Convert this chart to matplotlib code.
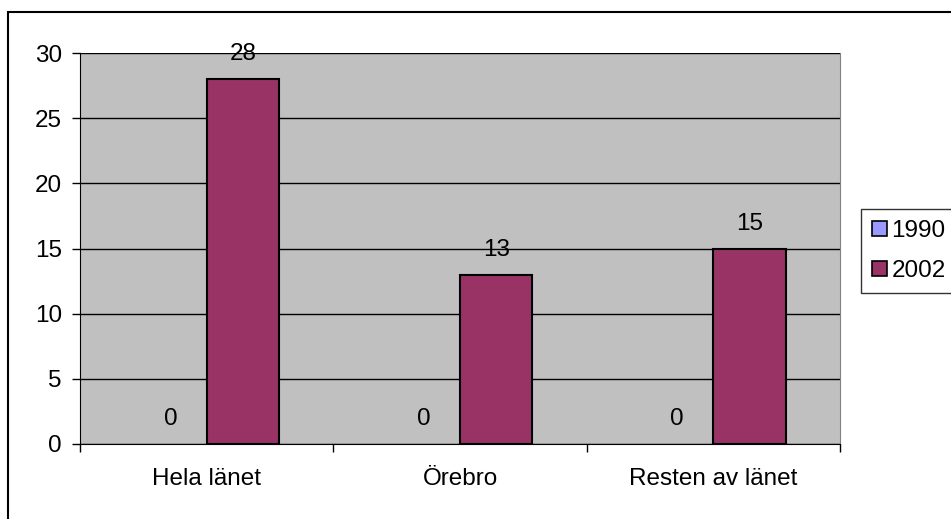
import matplotlib.pyplot as plt
import matplotlib.patches as mpatches
import numpy as np

plt.rcParams['font.family'] = ['Liberation Sans', 'DejaVu Sans']

# data
categories = ['Hela länet', 'Örebro', 'Resten av länet']
years = ['1990', '2002']
values_1990 = [0, 0, 0]
values_2002 = [28, 13, 15]
colors = ['#9999FF', '#993366']

fs = 17.5

fig = plt.figure(figsize=(9.51, 5.19), dpi=100)

# outer chart frame (runs off the right/bottom edge like the original)
fig.patches.append(mpatches.Rectangle((8 / 951, -0.05), 1.0, 1 - 12 / 519 + 0.05,
                                      transform=fig.transFigure, fill=False,
                                      edgecolor='black', linewidth=1.5))

ax = fig.add_axes([80 / 951, 75 / 519, 760 / 951, 391 / 519])
ax.set_facecolor('#C0C0C0')

x = np.arange(len(categories))
w = 1 / 3.5
bars1 = ax.bar(x - w / 2, values_1990, w, color=colors[0], edgecolor='black',
               linewidth=0, zorder=3)
bars2 = ax.bar(x + w / 2, values_2002, w, color=colors[1], edgecolor='black',
               linewidth=1.5, zorder=3)

for bars in (bars1, bars2):
    for b in bars:
        ax.annotate(str(int(b.get_height())),
                    (b.get_x() + b.get_width() / 2, b.get_height()),
                    xytext=(0, 10), textcoords='offset points',
                    ha='center', va='bottom', fontsize=fs, zorder=4)

ax.set_xlim(-0.5, 2.5)
ax.set_ylim(0, 30)
ax.set_yticks(range(0, 31, 5))
ax.yaxis.grid(True, color='black', linewidth=1)
ax.set_axisbelow(True)

ax.set_xticks(x)
ax.set_xticklabels(categories)
ax.set_xticks([-0.5, 0.5, 1.5, 2.5], minor=True)
ax.tick_params(axis='x', which='major', length=0, pad=17, labelsize=fs)
ax.tick_params(axis='x', which='minor', length=6, width=1, direction='out')
ax.tick_params(axis='y', length=6, width=1, direction='out', pad=7, labelsize=fs)

ax.spines['top'].set_visible(False)
ax.spines['right'].set_color('#808080')
ax.spines['left'].set_color('black')
ax.spines['bottom'].set_color('black')

handles = [mpatches.Patch(facecolor=c, edgecolor='black', linewidth=1.2) for c in colors]
leg = fig.legend(handles=handles, labels=years,
                 loc='upper left', bbox_to_anchor=(861 / 951, 1 - 209 / 519),
                 fontsize=fs, frameon=True, fancybox=False, shadow=False,
                 handlelength=0.6, handleheight=0.6, handletextpad=0.2,
                 borderpad=0.45, labelspacing=0.75, borderaxespad=0)
leg._legend_box.sep = 6
leg.get_frame().set_edgecolor('black')
leg.get_frame().set_linewidth(1)

fig.savefig('out.png', dpi=100)
